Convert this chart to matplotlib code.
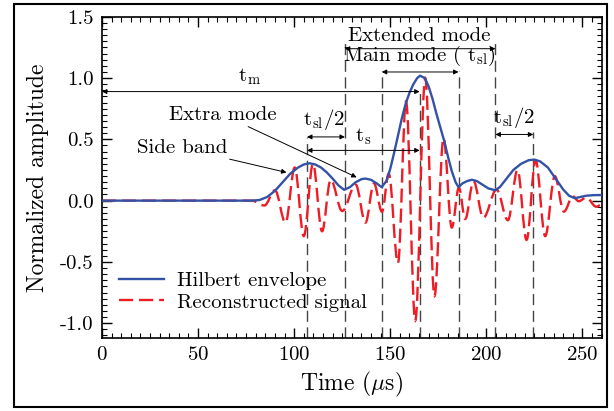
import matplotlib
matplotlib.use("Agg")
import matplotlib.pyplot as plt
from matplotlib.path import Path
from matplotlib.patches import PathPatch, Rectangle
from matplotlib.lines import Line2D
from matplotlib.ticker import MultipleLocator, FormatStrFormatter

plt.rcParams["font.family"] = "cmr10"
plt.rcParams["mathtext.fontset"] = "cm"
plt.rcParams["axes.unicode_minus"] = False
plt.rcParams["axes.formatter.use_mathtext"] = True

# Hilbert envelope (time in us, normalized amplitude)
env_t = [0, 78, 82, 86, 90, 94, 98, 102, 105, 108, 111, 114, 117, 120, 123, 126,
         129, 132, 135, 137, 140, 143, 145.5, 148, 150, 152, 154, 156, 158, 160,
         162, 164, 165.5, 168, 170, 172, 174, 176, 178, 180, 182, 184, 185.5,
         187.5, 190, 192.5, 195, 198, 201, 204.5, 207, 210, 214, 218, 222, 225,
         228, 232, 236, 240, 243, 246, 249, 252, 256, 260]
env_a = [0, 0, 0.005, 0.03, 0.08, 0.15, 0.22, 0.27, 0.295, 0.305, 0.295, 0.27,
         0.23, 0.18, 0.125, 0.088, 0.11, 0.15, 0.175, 0.18, 0.17, 0.14, 0.11,
         0.16, 0.26, 0.39, 0.53, 0.67, 0.79, 0.88, 0.95, 1.0, 1.02, 1.0, 0.93,
         0.83, 0.71, 0.6, 0.49, 0.36, 0.24, 0.15, 0.11, 0.14, 0.16, 0.17, 0.16,
         0.13, 0.1, 0.085, 0.11, 0.17, 0.25, 0.3, 0.33, 0.335, 0.32, 0.27, 0.18,
         0.09, 0.04, 0.02, 0.03, 0.04, 0.045, 0.045]

# reconstructed signal, turning points
sig_t = [0, 78, 84.5, 90, 95.5, 100.3, 105, 109.8, 114.5, 119, 125, 132, 137.1,
         141.5, 145.7, 149.2, 154, 158.2, 163, 168.2, 173, 177.7, 182, 185.7,
         189, 193.3, 198.4, 205.3, 211.2, 216.2, 220.9, 225.6, 230.6, 235.6,
         240.3, 245, 248, 252, 257.2, 260]
sig_a = [0, 0, -0.04, 0.085, -0.18, 0.27, -0.29, 0.30, -0.25, 0.17, -0.085,
         0.13, -0.18, 0.14, -0.09, 0.22, -0.51, 0.81, -0.98, 1.0, -0.78, 0.51,
         -0.22, 0.105, -0.15, 0.16, -0.14, 0.09, -0.16, 0.25, -0.32, 0.33,
         -0.29, 0.2, -0.09, 0.035, -0.005, 0.025, -0.05, -0.03]

# vertical marker lines: position and top
mark_t = [106.7, 126.4, 145.6, 165.3, 185.5, 204.7, 224.4]
mark_top = [0.52, 1.33, 1.06, 0.89, 1.06, 1.33, 0.56]

YMIN = -1.12


def smooth_path(ts, ys, k=0.36):
    """Cubic bezier through turning points (flat tangents at each one)."""
    verts = [(ts[0], ys[0])]
    codes = [Path.MOVETO]
    for (t0, y0), (t1, y1) in zip(zip(ts[:-1], ys[:-1]), zip(ts[1:], ys[1:])):
        dt = t1 - t0
        verts += [(t0 + k * dt, y0), (t1 - k * dt, y1), (t1, y1)]
        codes += [Path.CURVE4] * 3
    return Path(verts, codes)


fig = plt.figure(figsize=(6.14, 4.11), dpi=100)
ax = fig.add_axes([0.166, 0.178, 0.814, 0.781])

fig.patches.append(Rectangle((0.022, 0.01), 0.966, 0.98, transform=fig.transFigure,
                             fill=False, edgecolor="black", linewidth=1.5))

blue = "#3352a6"
red = "#ee1c25"
red_dash = (0, (6, 2.5))

for t, top in zip(mark_t, mark_top):
    ax.plot([t, t], [YMIN, top], color="#444444", lw=1.0,
            dashes=(8, 4), zorder=1)

ax.plot(env_t, env_a, color=blue, lw=1.7, zorder=3)
ax.add_patch(PathPatch(smooth_path(sig_t, sig_a), fill=False, edgecolor=red,
                       lw=1.7, linestyle=red_dash, zorder=2))

arrow = dict(arrowstyle="<|-|>", color="black", lw=0.7, mutation_scale=7,
             shrinkA=0, shrinkB=0)
one_way = dict(arrowstyle="-|>", color="black", lw=0.7, mutation_scale=7,
               shrinkA=0, shrinkB=0)


def span(x0, x1, y):
    ax.annotate("", xy=(x1, y), xytext=(x0, y), arrowprops=arrow)


span(0, 165.3, 0.89)
span(126.4, 204.7, 1.24)
span(145.6, 185.5, 1.05)
span(106.7, 126.4, 0.52)
span(106.7, 165.3, 0.41)
span(204.7, 224.4, 0.54)

fs = 15
ax.text(77, 0.93, r"$\mathrm{t_m}$", fontsize=fs, ha="center", va="bottom")
ax.text(165.3, 1.27, "Extended mode", fontsize=fs, ha="center", va="bottom")
ax.text(165.3, 1.08, r"Main mode ( $\mathrm{t_{sl}}$)", fontsize=fs,
        ha="center", va="bottom")
ax.text(115.5, 0.56, r"$\mathrm{t_{sl}/2}$", fontsize=fs, ha="center", va="bottom")
ax.text(214.5, 0.58, r"$\mathrm{t_{sl}/2}$", fontsize=fs, ha="center", va="bottom")
ax.text(136, 0.44, r"$\mathrm{t_s}$", fontsize=fs, ha="center", va="bottom")

ax.annotate("Extra mode", xy=(132.5, 0.19), xytext=(63, 0.70), fontsize=fs,
            ha="center", va="center", arrowprops=one_way)
ax.annotate("Side band", xy=(96, 0.23), xytext=(41.5, 0.43), fontsize=fs,
            ha="center", va="center", arrowprops=one_way)

ax.set_xlim(0, 260)
ax.set_ylim(YMIN, 1.5)
ax.xaxis.set_major_locator(MultipleLocator(50))
ax.xaxis.set_minor_locator(MultipleLocator(5))
ax.yaxis.set_major_locator(MultipleLocator(0.5))
ax.yaxis.set_minor_locator(MultipleLocator(0.05))
ax.yaxis.set_major_formatter(FormatStrFormatter("%.1f"))
ax.tick_params(which="both", direction="in", top=True, right=True, labelsize=15)
ax.tick_params(which="major", length=7, width=1.0, pad=6)
ax.tick_params(which="minor", length=3.5, width=0.8)
for s in ax.spines.values():
    s.set_linewidth(1.2)

ax.set_xlabel(r"Time ($\mu$s)", fontsize=17, labelpad=4)
ax.set_ylabel("Normalized amplitude", fontsize=17, labelpad=8)

handles = [Line2D([], [], color=blue, lw=1.7),
           Line2D([], [], color=red, lw=1.7, linestyle=red_dash)]
ax.legend(handles, ["Hilbert envelope", "Reconstructed signal"], loc="lower left",
          frameon=False, fontsize=15, handlelength=2.2, handletextpad=0.6,
          borderaxespad=0.4, labelspacing=0.15, bbox_to_anchor=(0.0, 0.03))

fig.savefig("out.png", dpi=100)
